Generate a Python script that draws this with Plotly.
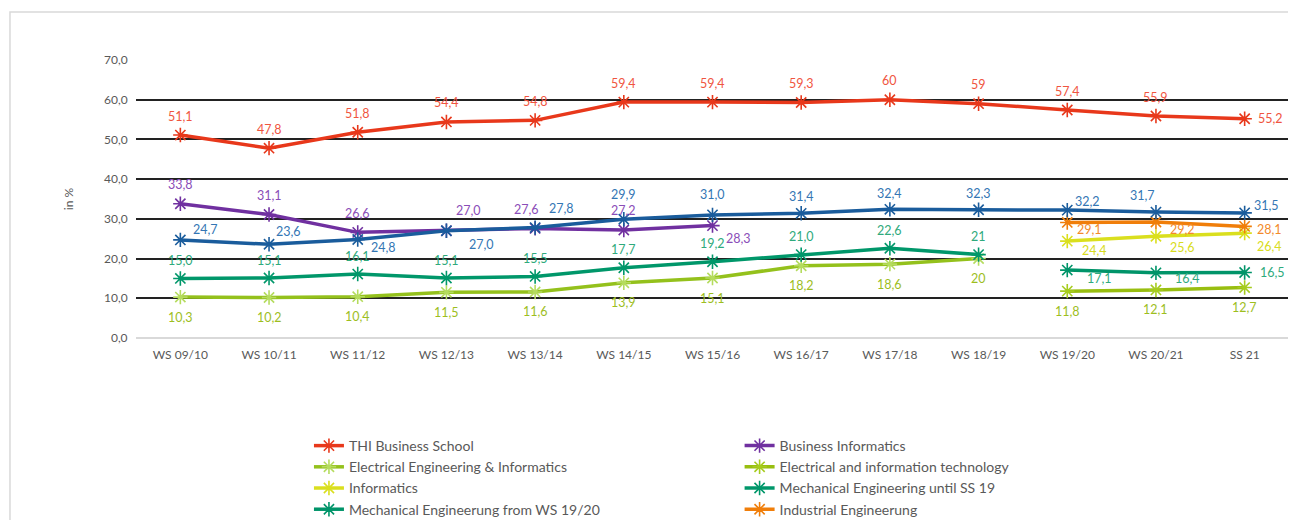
import plotly.graph_objects as go

semesters = ["WS 09/10", "WS 10/11", "WS 11/12", "WS 12/13", "WS 13/14", "WS 14/15",
             "WS 15/16", "WS 16/17", "WS 17/18", "WS 18/19", "WS 19/20", "WS 20/21", "SS 21"]

thi_business_school = [51.1, 47.8, 51.8, 54.4, 54.8, 59.4, 59.4, 59.3, 60, 59, 57.4, 55.9, 55.2]
business_informatics = [33.8, 31.1, 26.6, 27.0, 27.6, 27.2, 28.3, None, None, None, None, None, None]
electrical_eng_informatics = [10.3, 10.2, 10.4, 11.5, 11.6, 13.9, 15.1, 18.2, 18.6, 20, None, None, None]
electrical_info_technology = [None] * 10 + [11.8, 12.1, 12.7]
informatics = [None] * 10 + [24.4, 25.6, 26.4]
mech_until_ss19 = [15.0, 15.1, 16.1, 15.1, 15.5, 17.7, 19.2, 21.0, 22.6, 21, None, None, None]
mech_from_ws1920 = [None] * 10 + [17.1, 16.4, 16.5]
industrial_eng = [None] * 10 + [29.1, 29.2, 28.1]
total_blue = [24.7, 23.6, 24.8, 27.0, 27.8, 29.9, 31.0, 31.4, 32.4, 32.3, 32.2, 31.7, 31.5]

y_ticks = [0, 10, 20, 30, 40, 50, 60, 70]


def fmt(v):
    if isinstance(v, int):
        return str(v)
    return f"{v:.1f}".replace(".", ",")


FONT = "Lato, 'Open Sans', sans-serif"

UP = (0, 19)
DOWN = (0, -20)

# label offsets in pixels (dx, dy) per point
red_off = [UP] * 12 + [(26, 0)]
purple_off = [UP, UP, UP, (22, 20), (-9, 19), UP, (26, -13)] + [UP] * 6
eei_off = [DOWN] * 13
eit_off = [DOWN] * 13
inf_off = [DOWN] * 10 + [(27, -9), (27, -11), (25, -13)]
mech1_off = [(0, 18)] * 13
mech2_off = [DOWN] * 10 + [(32, -8), (32, -6), (28, 0)]
ind_off = [DOWN] * 10 + [(22, -7), (27, -7), (25, -3)]
blue_off = [(25, 10), (19, 13), (26, -8), (35, -14), (26, 19), (0, 25), (0, 20), (0, 17),
            (0, 16), (0, 16), (20, 9), (-13, 17), (22, 7)]

series = [
    # name, values, line colour, marker colour, label colour, offsets, legend
    ("THI Business School", thi_business_school, "#E8381B", "#E8381B", "#F0553F", red_off, "legend"),
    ("Business Informatics", business_informatics, "#7030A0", "#7030A0", "#8A4DB8", purple_off, "legend2"),
    ("Electrical Engineering & Informatics", electrical_eng_informatics, "#94C11C", "#B5DC5E", "#9DBE1E",
     eei_off, "legend"),
    ("Electrical and information technology", electrical_info_technology, "#98BE10", "#A6CC1E", "#9DBE1E",
     eit_off, "legend2"),
    ("Informatics", informatics, "#DADF1E", "#DADF1E", "#D8DC20", inf_off, "legend"),
    ("Mechanical Engineering until SS 19", mech_until_ss19, "#00976A", "#00976A", "#2FAA7C", mech1_off, "legend2"),
    ("Mechanical Engineerung from WS 19/20", mech_from_ws1920, "#009469", "#009469", "#2FAA7C", mech2_off, "legend"),
    ("Industrial Engineerung", industrial_eng, "#F07E0A", "#F07E0A", "#F38A2A", ind_off, "legend2"),
    ("Total", total_blue, "#1A5C9C", "#1A5C9C", "#3476B4", blue_off, None),
]

fig = go.Figure()
annotations = []

for name, vals, lc, mc, tc, offs, leg in series:
    fig.add_trace(go.Scatter(
        x=semesters, y=vals, name=name, mode="lines+markers",
        line=dict(color=lc, width=3.5),
        marker=dict(symbol="asterisk-open", size=12, line=dict(color=mc, width=1.6), color=mc),
        showlegend=leg is not None, legend=leg if leg else "legend",
        hoverinfo="skip", connectgaps=False,
    ))
    for sem, v, (dx, dy) in zip(semesters, vals, offs):
        if v is None:
            continue
        annotations.append(dict(
            x=sem, y=v, xref="x", yref="y", text=fmt(v), showarrow=False,
            xanchor="center", yanchor="middle", xshift=dx, yshift=dy,
            font=dict(color=tc, size=12.5, family=FONT),
        ))

# The page body adds an 8px margin, so the figure is drawn 8px smaller.
fig.update_layout(
    width=1288, height=512,
    margin=dict(l=128, r=7, t=52, b=182, autoexpand=False),
    paper_bgcolor="white", plot_bgcolor="white",
    separators=",.",
    font=dict(family=FONT, color="#595959", size=12),
    xaxis=dict(type="category", range=[-0.5, len(semesters) - 0.5],
               showgrid=False, zeroline=False, showline=False,
               ticks="outside", ticklen=6, tickcolor="rgba(0,0,0,0)", automargin=False,
               tickfont=dict(size=12, color="#595959"), fixedrange=True),
    yaxis=dict(range=[0, 70], tickvals=y_ticks, tickformat=".1f", automargin=False,
               showgrid=True, gridcolor="#222222", gridwidth=1.5,
               zeroline=True, zerolinecolor="#D9D9D9", zerolinewidth=2,
               ticks="outside", ticklen=5, tickcolor="rgba(0,0,0,0)",
               tickfont=dict(size=12, color="#595959"),
               title=dict(text="in %", standoff=27, font=dict(size=12, color="#595959"))),
    legend=dict(orientation="v", x=0.150, xanchor="left", y=-0.331, yanchor="top",
                font=dict(size=14, color="#595959", family=FONT), bgcolor="rgba(0,0,0,0)",
                tracegroupgap=0),
    legend2=dict(orientation="v", x=0.5235, xanchor="left", y=-0.331, yanchor="top",
                 font=dict(size=14, color="#595959", family=FONT), bgcolor="rgba(0,0,0,0)",
                 tracegroupgap=0),
    annotations=annotations,
    shapes=[dict(type="rect", xref="paper", yref="paper", x0=-0.1093, x1=1.0017,
                 y0=1.1727, y1=-0.75, line=dict(color="#D9D9D9", width=1.5), layer="below")],
)

fig.write_html("out.html")
